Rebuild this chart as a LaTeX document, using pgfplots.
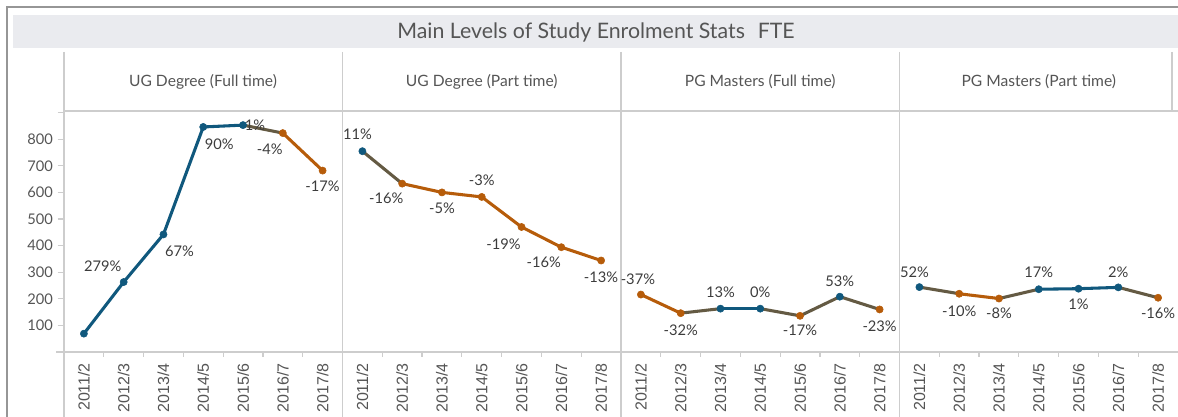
\documentclass[border=0pt]{standalone}
\usepackage{pgfplots}
\pgfplotsset{compat=1.18}
\usepackage{pgfplotstable}
\usepackage{fontspec}
\setmainfont{Lato}
\newfontfamily\arial{Liberation Sans}
\definecolor{tblue}{RGB}{16,88,125}
\definecolor{torange}{RGB}{182,92,10}
\definecolor{linegray}{RGB}{205,205,205}
\definecolor{band}{RGB}{234,235,239}
\definecolor{txt}{RGB}{85,85,85}
\definecolor{lbl}{RGB}{60,60,60}

% x = category index, y = FTE, c = colour (0 blue/up, 1 orange/down), lab = % change, dx/dy = label offset (px)
\pgfplotstableread{
x y c lab dx dy
0 69 0 none 0 0
1 263 0 279 -21 16
2 442 0 67 16 -17
3 846 0 90 16 -17
4 853 0 1 12 0
5 823 1 -4 -13 -16
6 682 1 -17 0 -16
}\pa
\pgfplotstableread{
x y c lab dx dy
0 755 0 11 -5 17
1 633 1 -16 -16 -15
2 600 1 -5 0 -16
3 583 1 -3 0 17
4 470 1 -19 -18 -17
5 394 1 -16 -17.5 -15
6 344 1 -13 0 -17
}\pb
\pgfplotstableread{
x y c lab dx dy
0 216 1 -37 -3 15
1 146 1 -32 0 -17
2 163 0 13 0 16
3 163 0 0 0 16
4 136 1 -17 0 -14
5 208 0 53 0 15
6 160 1 -23 0 -17
}\pc
\pgfplotstableread{
x y c lab dx dy
0 244 0 52 -5 15
1 219 1 -10 0 -17
2 201 1 -8 0 -15
3 236 0 17 0 17
4 238 0 1 0 -16
5 243 0 2 0 15
6 204 1 -16 0 -16
}\pd

\pgfplotsset{
  panel/.style={
    scale only axis, width=208.875pt, height=180.75pt,
    anchor=south west,
    xmin=-0.5, xmax=6.5, ymin=0, ymax=906,
    axis line style={draw=none},
    xtick={0,...,6},
    xticklabels={2011/2,2012/3,2013/4,2014/5,2015/6,2016/7,2017/8},
    minor x tick num=1,
    major x tick style={draw=none},
    minor x tick style={draw=linegray, line width=0.9pt},
    minor tick length=3.4pt,
    major tick length=4.8pt,
    tick align=outside,
    xtick pos=bottom, ytick pos=left,
    xticklabel style={font=\arial\fontsize{12}{12}\selectfont, text=txt, rotate=90, anchor=east},
    ytick=\empty,
    clip=false,
    colormap={bo}{rgb255=(16,88,125) rgb255=(182,92,10)},
    point meta min=0, point meta max=1,
  },
  ln/.style={mesh, shader=interp, line width=2.3pt, line cap=round, line join=round, point meta=\thisrow{c}},
  mk/.style={scatter, only marks, mark=*, mark size=2.7pt, point meta=\thisrow{c},
    scatter/use mapped color={draw=mapped color, fill=mapped color}},
  lb/.style={draw=none, point meta=explicit symbolic,
    nodes near coords={\pgfplotspointmeta\%},
    visualization depends on={\thisrow{dx}\as\dx},
    visualization depends on={\thisrow{dy}\as\dy},
    every node near coord/.append style={anchor=center, inner sep=0pt,
      xshift=\dx*0.75pt, yshift=\dy*0.75pt,
      font=\fontsize{11}{11}\selectfont, text=lbl}},
}

\begin{document}
\begin{tikzpicture}
\begin{scope}[x=0.75pt,y=-0.75pt]
\useasboundingbox (0,0) rectangle (1178,416);
% frame
\draw[draw={rgb,255:red,150;green,150;blue,150}, line width=1.1pt] (7,430) -- (7,7) -- (1190,7);
\fill[band] (13,15) rectangle (1190,48);
\node[text={rgb,255:red,85;green,85;blue,85}, font=\fontsize{16}{16}\selectfont] at (596,32) {Main Levels of Study Enrolment Stats\hspace{0.6em}FTE};
\foreach \xx in {64,342.5,621,899.5} {\draw[linegray, line width=0.8pt] (\xx,52) -- (\xx,430);}
\draw[linegray, line width=0.8pt] (1172,52) -- (1172,111);
\draw[linegray, line width=0.8pt] (64,111) -- (1190,111);
\draw[linegray, line width=1.4pt] (56,352) -- (1190,352);
\foreach \xx/\tt in {203/UG Degree (Full time),481.75/UG Degree (Part time),760.25/PG Masters (Full time),1038.75/PG Masters (Part time)}
  {\node[text=txt, font=\fontsize{11.7}{11.7}\selectfont] at (\xx,82) {\tt};}
\end{scope}

\begin{axis}[panel, at={(48pt,-264pt)},
  ytick={0,100,...,900}, yticklabels={{},100,200,300,400,500,600,700,800,{}},
  major y tick style={draw=linegray, line width=0.9pt},
  yticklabel style={font=\fontsize{11}{11}\selectfont, text=txt},
  /pgf/number format/assume math mode=true]
\addplot[ln] table[x=x,y=y] {\pa};
\addplot[mk] table[x=x,y=y] {\pa};
\addplot[lb, skip coords between index={0}{1}] table[x=x,y=y,meta=lab] {\pa};
\end{axis}
\begin{axis}[panel, at={(256.875pt,-264pt)}]
\addplot[ln] table[x=x,y=y] {\pb};
\addplot[mk] table[x=x,y=y] {\pb};
\addplot[lb] table[x=x,y=y,meta=lab] {\pb};
\end{axis}
\begin{axis}[panel, at={(465.75pt,-264pt)}]
\addplot[ln] table[x=x,y=y] {\pc};
\addplot[mk] table[x=x,y=y] {\pc};
\addplot[lb] table[x=x,y=y,meta=lab] {\pc};
\end{axis}
\begin{axis}[panel, at={(674.625pt,-264pt)}]
\addplot[ln] table[x=x,y=y] {\pd};
\addplot[mk] table[x=x,y=y] {\pd};
\addplot[lb] table[x=x,y=y,meta=lab] {\pd};
\end{axis}
\end{tikzpicture}
\end{document}
